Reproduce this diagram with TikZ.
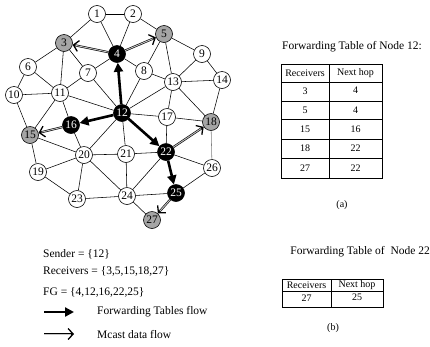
\documentclass[tikz,border=0pt]{standalone}
\usepackage{fontspec}
\setmainfont{Liberation Serif}
\usetikzlibrary{arrows.meta}
\definecolor{rgray}{RGB}{165,165,165}
\tikzset{
  nd/.style={circle,draw=black,line width=0.6pt,fill=white,minimum size=17pt,inner sep=0pt,font=\fontsize{11.5}{11.5}\selectfont},
  rcv/.style={nd,fill=rgray},
  fg/.style={nd,fill=black,text=white},
  edge/.style={draw=black,line width=0.55pt},
  ftflow/.style={draw=black,line width=2.6pt,-{Triangle[length=9pt,width=9pt]}},
  mcastout/.style={draw=black,line width=2.1pt,-{Straight Barb[length=5pt,width=11pt,line width=1.3pt]}},
  mcastin/.style={draw=gray!45,line width=0.9pt,shorten >=3pt},
  txt/.style={inner sep=0pt,font=\fontsize{11.5}{12}\selectfont},
  ttxt/.style={inner sep=0pt,font=\fontsize{10}{10}\selectfont},
  tbl/.style={draw=black,line width=0.8pt}
}
\begin{document}
\begin{tikzpicture}[x=1pt,y=-1pt]
\useasboundingbox (0,0) rectangle (430,346);
% nodes
\node[nd]  (n1)  at (97,14) {1};
\node[nd]  (n2)  at (133,14) {2};
\node[rcv] (n3)  at (64,43) {3};
\node[fg]  (n4)  at (117,54) {4};
\node[rcv] (n5)  at (164,34) {5};
\node[nd]  (n6)  at (28,67) {6};
\node[nd]  (n7)  at (88,73) {7};
\node[nd]  (n8)  at (144,71) {8};
\node[nd]  (n9)  at (202,54) {9};
\node[nd]  (n10) at (14,95) {10};
\node[nd]  (n11) at (60,93) {11};
\node[fg]  (n12) at (122,113) {12};
\node[nd]  (n13) at (173,82) {13};
\node[nd]  (n14) at (222,80) {14};
\node[rcv] (n15) at (30,135) {15};
\node[fg]  (n16) at (71,125) {16};
\node[nd]  (n17) at (167,117) {17};
\node[rcv] (n18) at (211,122) {18};
\node[nd]  (n19) at (38,172) {19};
\node[nd]  (n20) at (84,155) {20};
\node[nd]  (n21) at (126,154) {21};
\node[fg]  (n22) at (166,152) {22};
\node[nd]  (n23) at (77,199) {23};
\node[nd]  (n24) at (127,196) {24};
\node[fg]  (n25) at (176,193) {25};
\node[nd]  (n26) at (212,168) {26};
\node[rcv] (n27) at (152,220) {27};
% edges
\foreach \a/\b in {1/2,1/3,1/4,2/4,2/5,3/6,3/7,3/11,4/7,4/8,5/8,5/9,5/13,6/10,6/11,7/11,7/12,8/12,8/13,
  9/13,9/14,13/14,13/17,13/18,12/13,10/11,10/15,11/12,11/15,11/16,12/17,12/20,12/21,15/19,15/20,16/20,
  17/18,17/22,14/18,19/20,19/23,20/21,20/23,20/24,21/22,21/24,22/24,22/26,23/24,24/25,24/27,25/26}
  \draw[edge] (n\a) -- (n\b);
\draw[edge,draw=gray] (n18) -- (n26);
% forwarding table flow
\draw[ftflow] (n12) -- (n4);
\draw[ftflow] (n12) -- (n16);
\draw[ftflow] (n12) -- (n22);
\draw[ftflow] (n22) -- (n25);
% mcast data flow
\foreach \a/\b in {4/3,4/5,16/15,22/18,25/27}{
  \draw[mcastout] (n\a) -- (n\b);
  \draw[mcastin] (n\a) -- (n\b);
}
% table (a)
\node[txt] (ta) at (352,47) {Forwarding Table of Node 12:};
\draw[tbl] (281,64) rectangle (382,178);
\draw[tbl] (329,64) -- (329,178);
\draw[tbl] (281,82) -- (382,82);
\draw[tbl] (281,101) -- (382,101);
\draw[tbl] (281,119) -- (382,119);
\draw[tbl] (281,139) -- (382,139);
\draw[tbl] (281,158) -- (382,158);
\node[ttxt] (ha1) at (305,73) {Receivers};
\node[ttxt] (ha2) at (355.5,73) {Next hop};
\node[ttxt] (a11) at (305,91) {3};    \node[ttxt] (a12) at (355.5,90) {4};
\node[ttxt] (a21) at (305,110) {5};   \node[ttxt] (a22) at (355.5,110) {4};
\node[ttxt] (a31) at (305,129) {15};  \node[ttxt] (a32) at (355.5,129) {16};
\node[ttxt] (a41) at (305,148) {18};  \node[ttxt] (a42) at (355.5,148) {22};
\node[ttxt] (a51) at (305,168) {27};  \node[ttxt] (a52) at (355.5,168) {22};
\node[ttxt] (capa) at (342,205) {(a)};
% table (b)
\node[txt,anchor=east] (tb) at (430,252) {Forwarding Table of\ \ Node 22};
\draw[tbl] (282,279) rectangle (383,307);
\draw[tbl] (331,279) -- (331,307);
\draw[tbl] (282,291) -- (383,291);
\node[ttxt] (hb1) at (306.5,285) {Receivers};
\node[ttxt] (hb2) at (357,285) {Next hop};
\node[ttxt] (b11) at (306.5,298.5) {27};
\node[ttxt] (b12) at (357,297.5) {25};
\node[ttxt] (capb) at (333,328) {(b)};
% legend
\node[txt,anchor=west] (l1) at (43,254) {Sender = \{12\}};
\node[txt,anchor=west] (l2) at (43,271) {Receivers = \{3,5,15,18,27\}};
\node[txt,anchor=west] (l3) at (43,292) {FG = \{4,12,16,22,25\}};
\coordinate (fa) at (44,312);
\coordinate (fb) at (74,312);
\draw[ftflow] (fa) -- (fb);
\node[txt,anchor=west] (l4) at (97,312) {Forwarding Tables flow};
\coordinate (ma) at (44,334);
\coordinate (mb) at (74,334);
\draw[mcastout] (ma) -- (mb);
\draw[mcastin] (ma) -- (mb);
\node[txt,anchor=west] (l5) at (97,334) {Mcast data flow};
\end{tikzpicture}
\end{document}
